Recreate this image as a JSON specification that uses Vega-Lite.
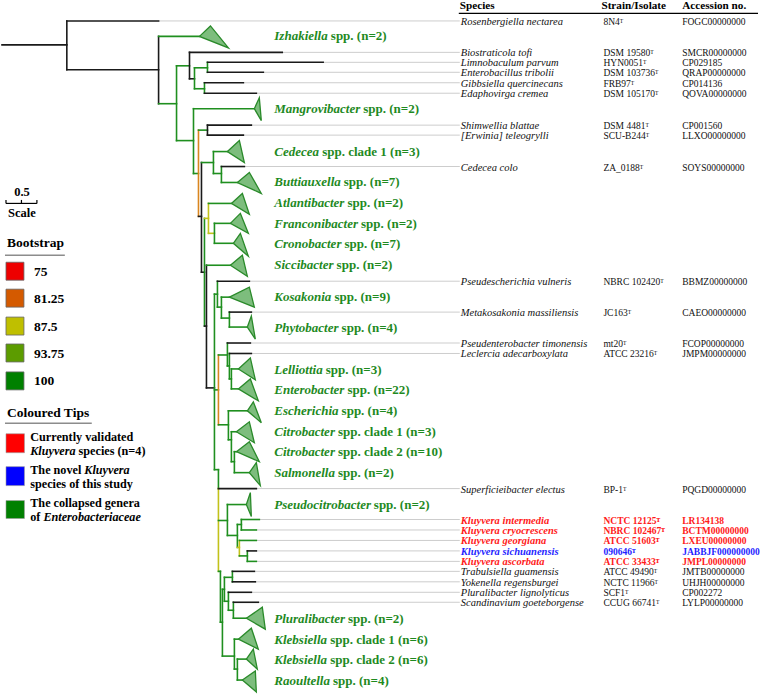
{
"$schema":"https://vega.github.io/schema/vega-lite/v6.json",
"width":760,"height":695,"padding":0,
"autosize":{"type":"fit","contains":"padding"},
"background":"white",
"config":{"view":{"stroke":null},"axis":{"disable":true},"text":{"font":"Liberation Serif"}},
"data":{"values":[{}]},
"datasets":{
"branches":[
{"x":0,"x2":65,"y":44,"y2":44,"b":"none"},
{"x":65,"x2":65,"y":20,"y2":69,"b":"none"},
{"x":65,"x2":157,"y":20,"y2":20,"b":"none"},
{"x":65,"x2":157,"y":69,"y2":69,"b":"none"},
{"x":157,"x2":157,"y":35.5,"y2":103,"b":"none"},
{"x":157,"x2":198,"y":35.5,"y2":35.5,"b":"100"},
{"x":157,"x2":175,"y":103,"y2":103,"b":"100"},
{"x":175,"x2":175,"y":65,"y2":140,"b":"100"},
{"x":175,"x2":188,"y":65,"y2":65,"b":"100"},
{"x":188,"x2":188,"y":51.5,"y2":78,"b":"none"},
{"x":188,"x2":281,"y":51.5,"y2":51.5,"b":"none"},
{"x":188,"x2":193,"y":78,"y2":78,"b":"none"},
{"x":193,"x2":193,"y":67,"y2":88,"b":"100"},
{"x":193,"x2":206,"y":67,"y2":67,"b":"100"},
{"x":206,"x2":206,"y":61.5,"y2":71.5,"b":"100"},
{"x":206,"x2":322,"y":61.5,"y2":61.5,"b":"none"},
{"x":206,"x2":262,"y":71.5,"y2":71.5,"b":"none"},
{"x":193,"x2":203,"y":88,"y2":88,"b":"100"},
{"x":203,"x2":203,"y":82,"y2":92.5,"b":"100"},
{"x":203,"x2":242,"y":82,"y2":82,"b":"none"},
{"x":203,"x2":255,"y":92.5,"y2":92.5,"b":"none"},
{"x":175,"x2":192,"y":140,"y2":140,"b":"100"},
{"x":192,"x2":192,"y":108,"y2":173,"b":"100"},
{"x":192,"x2":253,"y":108,"y2":108,"b":"100"},
{"x":192,"x2":197,"y":173,"y2":173,"b":"100"},
{"x":197,"x2":197,"y":129.5,"y2":216,"b":"81.25"},
{"x":197,"x2":206,"y":129.5,"y2":129.5,"b":"100"},
{"x":206,"x2":206,"y":124.5,"y2":134.5,"b":"none"},
{"x":206,"x2":250,"y":124.5,"y2":124.5,"b":"none"},
{"x":206,"x2":242,"y":134.5,"y2":134.5,"b":"none"},
{"x":197,"x2":200,"y":216,"y2":216,"b":"none"},
{"x":200,"x2":200,"y":162,"y2":272,"b":"none"},
{"x":200,"x2":212,"y":162,"y2":162,"b":"100"},
{"x":212,"x2":212,"y":151,"y2":173,"b":"100"},
{"x":212,"x2":226,"y":151,"y2":151,"b":"100"},
{"x":212,"x2":220,"y":173,"y2":173,"b":"100"},
{"x":220,"x2":220,"y":166,"y2":182,"b":"100"},
{"x":220,"x2":243,"y":166,"y2":166,"b":"none"},
{"x":220,"x2":236,"y":182,"y2":182,"b":"100"},
{"x":200,"x2":203,"y":272,"y2":272,"b":"none"},
{"x":203,"x2":203,"y":218,"y2":326,"b":"100"},
{"x":203,"x2":207,"y":218,"y2":218,"b":"87.5"},
{"x":207,"x2":207,"y":203,"y2":233,"b":"87.5"},
{"x":207,"x2":230,"y":203,"y2":203,"b":"100"},
{"x":207,"x2":213,"y":233,"y2":233,"b":"87.5"},
{"x":213,"x2":213,"y":223,"y2":243,"b":"100"},
{"x":213,"x2":229,"y":223,"y2":223,"b":"100"},
{"x":213,"x2":232,"y":243,"y2":243,"b":"100"},
{"x":203,"x2":205,"y":326,"y2":326,"b":"none"},
{"x":205,"x2":205,"y":265,"y2":388,"b":"none"},
{"x":205,"x2":229,"y":265,"y2":265,"b":"100"},
{"x":205,"x2":213,"y":388,"y2":388,"b":"none"},
{"x":213,"x2":213,"y":294,"y2":470,"b":"100"},
{"x":213,"x2":216,"y":294,"y2":294,"b":"100"},
{"x":216,"x2":216,"y":281,"y2":307,"b":"100"},
{"x":216,"x2":248,"y":281,"y2":281,"b":"none"},
{"x":216,"x2":220,"y":307,"y2":307,"b":"100"},
{"x":220,"x2":220,"y":297,"y2":318,"b":"100"},
{"x":220,"x2":228,"y":297,"y2":297,"b":"100"},
{"x":220,"x2":228,"y":318,"y2":318,"b":"100"},
{"x":228,"x2":228,"y":312,"y2":327,"b":"100"},
{"x":228,"x2":250,"y":312,"y2":312,"b":"none"},
{"x":228,"x2":246,"y":327,"y2":327,"b":"100"},
{"x":213,"x2":217,"y":390,"y2":390,"b":"100"},
{"x":217,"x2":217,"y":355,"y2":425,"b":"81.25"},
{"x":217,"x2":226,"y":355,"y2":355,"b":"100"},
{"x":226,"x2":226,"y":343,"y2":366,"b":"100"},
{"x":226,"x2":249,"y":343,"y2":343,"b":"none"},
{"x":226,"x2":228,"y":366,"y2":366,"b":"100"},
{"x":228,"x2":228,"y":353.5,"y2":379,"b":"100"},
{"x":228,"x2":250,"y":353.5,"y2":353.5,"b":"none"},
{"x":228,"x2":230,"y":379,"y2":379,"b":"100"},
{"x":230,"x2":230,"y":369,"y2":389,"b":"100"},
{"x":230,"x2":237,"y":369,"y2":369,"b":"100"},
{"x":230,"x2":237,"y":389,"y2":389,"b":"100"},
{"x":217,"x2":227,"y":425,"y2":425,"b":"100"},
{"x":227,"x2":227,"y":411,"y2":440,"b":"100"},
{"x":227,"x2":246,"y":411,"y2":411,"b":"100"},
{"x":227,"x2":230,"y":440,"y2":440,"b":"100"},
{"x":230,"x2":230,"y":432,"y2":462,"b":"100"},
{"x":230,"x2":235,"y":432,"y2":432,"b":"100"},
{"x":230,"x2":233,"y":462,"y2":462,"b":"100"},
{"x":233,"x2":233,"y":452,"y2":473,"b":"100"},
{"x":233,"x2":235,"y":452,"y2":452,"b":"100"},
{"x":233,"x2":248,"y":473,"y2":473,"b":"100"},
{"x":213,"x2":217,"y":470,"y2":470,"b":"100"},
{"x":217,"x2":217,"y":470,"y2":489,"b":"100"},
{"x":217,"x2":217,"y":489,"y2":572,"b":"87.5"},
{"x":217,"x2":255,"y":489,"y2":489,"b":"none"},
{"x":217,"x2":226,"y":521,"y2":521,"b":"100"},
{"x":226,"x2":226,"y":505,"y2":536,"b":"100"},
{"x":226,"x2":245,"y":505,"y2":505,"b":"100"},
{"x":226,"x2":236,"y":536,"y2":536,"b":"100"},
{"x":236,"x2":236,"y":525,"y2":548,"b":"100"},
{"x":236,"x2":240,"y":525,"y2":525,"b":"100"},
{"x":240,"x2":240,"y":520,"y2":530.5,"b":"100"},
{"x":240,"x2":258,"y":520,"y2":520,"b":"100"},
{"x":240,"x2":255,"y":530.5,"y2":530.5,"b":"100"},
{"x":236,"x2":238,"y":548,"y2":548,"b":"87.5"},
{"x":238,"x2":238,"y":541,"y2":556.5,"b":"87.5"},
{"x":238,"x2":255,"y":541,"y2":541,"b":"100"},
{"x":238,"x2":246,"y":556.5,"y2":556.5,"b":"100"},
{"x":246,"x2":246,"y":551.5,"y2":562,"b":"100"},
{"x":246,"x2":255,"y":551.5,"y2":551.5,"b":"none"},
{"x":246,"x2":255,"y":562,"y2":562,"b":"100"},
{"x":219,"x2":219,"y":572,"y2":623,"b":"100"},
{"x":217,"x2":219,"y":572,"y2":572,"b":"100"},
{"x":219,"x2":221,"y":623,"y2":623,"b":"100"},
{"x":221,"x2":221,"y":590,"y2":657,"b":"100"},
{"x":221,"x2":223,"y":590,"y2":590,"b":"100"},
{"x":223,"x2":223,"y":578,"y2":602,"b":"100"},
{"x":223,"x2":231,"y":578,"y2":578,"b":"100"},
{"x":231,"x2":231,"y":572,"y2":582.5,"b":"100"},
{"x":231,"x2":253,"y":572,"y2":572,"b":"none"},
{"x":231,"x2":254,"y":582.5,"y2":582.5,"b":"none"},
{"x":223,"x2":227,"y":602,"y2":602,"b":"100"},
{"x":227,"x2":227,"y":593,"y2":611,"b":"100"},
{"x":227,"x2":250,"y":593,"y2":593,"b":"none"},
{"x":227,"x2":232,"y":611,"y2":611,"b":"100"},
{"x":232,"x2":232,"y":603,"y2":619,"b":"100"},
{"x":232,"x2":257,"y":603,"y2":603,"b":"none"},
{"x":232,"x2":245,"y":619,"y2":619,"b":"100"},
{"x":221,"x2":233,"y":657,"y2":657,"b":"100"},
{"x":233,"x2":233,"y":640,"y2":670,"b":"100"},
{"x":233,"x2":237,"y":640,"y2":640,"b":"100"},
{"x":233,"x2":236,"y":670,"y2":670,"b":"100"},
{"x":236,"x2":236,"y":660,"y2":681,"b":"100"},
{"x":236,"x2":245,"y":660,"y2":660,"b":"100"},
{"x":236,"x2":241,"y":681,"y2":681,"b":"100"}
],
"tips":[
{"n":"Rosenbergiella nectarea","s":"8N4ᵀ","a":"FOGC00000000","y":20,"xe":157,"k":"n"},
{"n":"Biostraticola tofi","s":"DSM 19580ᵀ","a":"SMCR00000000","y":51.5,"xe":281,"k":"n"},
{"n":"Limnobaculum parvum","s":"HYN0051ᵀ","a":"CP029185","y":61.5,"xe":322,"k":"n"},
{"n":"Enterobacillus tribolii","s":"DSM 103736ᵀ","a":"QRAP00000000","y":71.5,"xe":262,"k":"n"},
{"n":"Gibbsiella quercinecans","s":"FRB97ᵀ","a":"CP014136","y":82,"xe":242,"k":"n"},
{"n":"Edaphovirga cremea","s":"DSM 105170ᵀ","a":"QOVA00000000","y":92.5,"xe":255,"k":"n"},
{"n":"Shimwellia blattae","s":"DSM 4481ᵀ","a":"CP001560","y":124.5,"xe":250,"k":"n"},
{"n":"[Erwinia] teleogrylli","s":"SCU-B244ᵀ","a":"LLXO00000000","y":134.5,"xe":242,"k":"n"},
{"n":"Cedecea colo","s":"ZA_0188ᵀ","a":"SOYS00000000","y":166,"xe":243,"k":"n"},
{"n":"Pseudescherichia vulneris","s":"NBRC 102420ᵀ","a":"BBMZ00000000","y":281,"xe":248,"k":"n"},
{"n":"Metakosakonia massiliensis","s":"JC163ᵀ","a":"CAEO00000000","y":312,"xe":250,"k":"n"},
{"n":"Pseudenterobacter timonensis","s":"mt20ᵀ","a":"FCOP00000000","y":343,"xe":249,"k":"n"},
{"n":"Leclercia adecarboxylata","s":"ATCC 23216ᵀ","a":"JMPM00000000","y":353.5,"xe":250,"k":"n"},
{"n":"Superficieibacter electus","s":"BP-1ᵀ","a":"PQGD00000000","y":489,"xe":255,"k":"n"},
{"n":"Kluyvera intermedia","s":"NCTC 12125ᵀ","a":"LR134138","y":520,"xe":258,"k":"r"},
{"n":"Kluyvera cryocrescens","s":"NBRC 102467ᵀ","a":"BCTM00000000","y":530.5,"xe":255,"k":"r"},
{"n":"Kluyvera georgiana","s":"ATCC 51603ᵀ","a":"LXEU00000000","y":541,"xe":255,"k":"r"},
{"n":"Kluyvera sichuanensis","s":"090646ᵀ","a":"JABBJF000000000","y":551.5,"xe":255,"k":"b"},
{"n":"Kluyvera ascorbata","s":"ATCC 33433ᵀ","a":"JMPL00000000","y":562,"xe":255,"k":"r"},
{"n":"Trabulsiella guamensis","s":"ATCC 49490ᵀ","a":"JMTB00000000","y":572,"xe":253,"k":"n"},
{"n":"Yokenella regensburgei","s":"NCTC 11966ᵀ","a":"UHJH00000000","y":582.5,"xe":254,"k":"n"},
{"n":"Pluralibacter lignolyticus","s":"SCF1ᵀ","a":"CP002272","y":593,"xe":250,"k":"n"},
{"n":"Scandinavium goeteborgense","s":"CCUG 66741ᵀ","a":"LYLP00000000","y":603,"xe":257,"k":"n"}
],
"tri":[
{"id":"Izh","k":0,"x":198,"y":35.5},{"id":"Izh","k":1,"x":209,"y":25},{"id":"Izh","k":2,"x":227,"y":47},
{"id":"Man","k":0,"x":253,"y":108},{"id":"Man","k":1,"x":258,"y":97},{"id":"Man","k":2,"x":260,"y":120},
{"id":"Ced","k":0,"x":226,"y":151},{"id":"Ced","k":1,"x":238,"y":140},{"id":"Ced","k":2,"x":243,"y":162},
{"id":"But","k":0,"x":236,"y":182},{"id":"But","k":1,"x":248,"y":172},{"id":"But","k":2,"x":260,"y":193},
{"id":"Atl","k":0,"x":230,"y":203},{"id":"Atl","k":1,"x":241,"y":193},{"id":"Atl","k":2,"x":248,"y":214},
{"id":"Fra","k":0,"x":229,"y":223},{"id":"Fra","k":1,"x":239,"y":213},{"id":"Fra","k":2,"x":247,"y":233},
{"id":"Cro","k":0,"x":232,"y":243},{"id":"Cro","k":1,"x":239,"y":233},{"id":"Cro","k":2,"x":247,"y":256},
{"id":"Sic","k":0,"x":229,"y":265},{"id":"Sic","k":1,"x":241,"y":255},{"id":"Sic","k":2,"x":246,"y":276},
{"id":"Kos","k":0,"x":228,"y":297},{"id":"Kos","k":1,"x":248,"y":287},{"id":"Kos","k":2,"x":253,"y":307},
{"id":"Phy","k":0,"x":246,"y":327},{"id":"Phy","k":1,"x":250,"y":316},{"id":"Phy","k":2,"x":254,"y":339},
{"id":"Lel","k":0,"x":237,"y":369},{"id":"Lel","k":1,"x":249,"y":358},{"id":"Lel","k":2,"x":254,"y":380},
{"id":"Ent","k":0,"x":237,"y":389},{"id":"Ent","k":1,"x":249,"y":379},{"id":"Ent","k":2,"x":257,"y":401},
{"id":"Esc","k":0,"x":246,"y":411},{"id":"Esc","k":1,"x":252,"y":402},{"id":"Esc","k":2,"x":260,"y":423},
{"id":"Ci1","k":0,"x":235,"y":432},{"id":"Ci1","k":1,"x":248,"y":422},{"id":"Ci1","k":2,"x":253,"y":443},
{"id":"Ci2","k":0,"x":235,"y":452},{"id":"Ci2","k":1,"x":248,"y":442},{"id":"Ci2","k":2,"x":258,"y":462},
{"id":"Sal","k":0,"x":248,"y":473},{"id":"Sal","k":1,"x":255,"y":463},{"id":"Sal","k":2,"x":259,"y":486},
{"id":"Pse","k":0,"x":245,"y":505},{"id":"Pse","k":1,"x":249,"y":493},{"id":"Pse","k":2,"x":250,"y":517},
{"id":"Plu","k":0,"x":245,"y":619},{"id":"Plu","k":1,"x":261,"y":608},{"id":"Plu","k":2,"x":264,"y":630},
{"id":"Kl1","k":0,"x":237,"y":640},{"id":"Kl1","k":1,"x":250,"y":629},{"id":"Kl1","k":2,"x":257,"y":650},
{"id":"Kl2","k":0,"x":245,"y":660},{"id":"Kl2","k":1,"x":252,"y":650},{"id":"Kl2","k":2,"x":256,"y":670},
{"id":"Rao","k":0,"x":241,"y":681},{"id":"Rao","k":1,"x":254,"y":672},{"id":"Rao","k":2,"x":255,"y":693}
],
"groups":[
{"g":"Izhakiella","s":"spp. (n=2)","y":35,"sx":329.7},
{"g":"Mangrovibacter","s":"spp. (n=2)","y":108,"sx":362.2},
{"g":"Cedecea","s":"spp. clade 1 (n=3)","y":151,"sx":321},
{"g":"Buttiauxella","s":"spp. (n=7)","y":182,"sx":342.7},
{"g":"Atlantibacter","s":"spp. (n=2)","y":203,"sx":346.3},
{"g":"Franconibacter","s":"spp. (n=2)","y":223.5,"sx":360},
{"g":"Cronobacter","s":"spp. (n=7)","y":244,"sx":343.4},
{"g":"Siccibacter","s":"spp. (n=2)","y":265,"sx":335.5},
{"g":"Kosakonia","s":"spp. (n=9)","y":297,"sx":333.3},
{"g":"Phytobacter","s":"spp. (n=4)","y":327.5,"sx":340.5},
{"g":"Lelliottia","s":"spp. (n=3)","y":370,"sx":324.6},
{"g":"Enterobacter","s":"spp. (n=22)","y":390,"sx":346.3},
{"g":"Escherichia","s":"spp. (n=4)","y":411,"sx":340.5},
{"g":"Citrobacter","s":"spp. clade 1 (n=3)","y":432,"sx":336.9},
{"g":"Citrobacter","s":"spp. clade 2 (n=10)","y":452.5,"sx":336.9},
{"g":"Salmonella","s":"spp. (n=2)","y":473,"sx":336.9},
{"g":"Pseudocitrobacter","s":"spp. (n=2)","y":505,"sx":372.8},
{"g":"Pluralibacter","s":"spp. (n=2)","y":620,"sx":346.8},
{"g":"Klebsiella","s":"spp. clade 1 (n=6)","y":640.5,"sx":329},
{"g":"Klebsiella","s":"spp. clade 2 (n=6)","y":660.5,"sx":329},
{"g":"Raoultella","s":"spp. (n=4)","y":681.5,"sx":331.9}
],
"boot":[
{"b":"75","y":262,"y2":280},
{"b":"81.25","y":289,"y2":307},
{"b":"87.5","y":317,"y2":335},
{"b":"93.75","y":344,"y2":362},
{"b":"100","y":372,"y2":390}
],
"tipleg":[
{"b":"validated","y":434,"y2":453},
{"b":"novel","y":467,"y2":486},
{"b":"collapsed","y":501,"y2":519}
]
},
"layer":[
{"data":{"name":"tips"},"mark":{"type":"rule","color":"#cdcdcd","strokeWidth":1},
 "encoding":{"x":{"field":"xe","type":"quantitative","scale":{"domain":[0,760],"nice":false,"zero":false},"axis":null},"x2":{"datum":459},
 "y":{"field":"y","type":"quantitative","scale":{"domain":[0,695],"nice":false,"zero":false,"reverse":true},"axis":null}}},
{"data":{"name":"branches"},"mark":{"type":"rule","strokeWidth":1.6,"strokeCap":"square"},
 "encoding":{"x":{"field":"x","type":"quantitative","axis":null},"x2":{"field":"x2"},"y":{"field":"y","type":"quantitative","axis":null},"y2":{"field":"y2"},
 "stroke":{"field":"b","type":"nominal","scale":{"domain":["none","100","93.75","87.5","81.25","75"],"range":["#1a1a1a","#1f8f1f","#63a019","#c2c21a","#d9861f","#e00000"]},"legend":null}}},
{"data":{"name":"tri"},"mark":{"type":"line","interpolate":"linear-closed","fill":"#7dbd7d","stroke":"#2a8a2a","strokeWidth":1.3,"strokeJoin":"miter"},
 "encoding":{"x":{"field":"x","type":"quantitative","axis":null},"y":{"field":"y","type":"quantitative","axis":null},"detail":{"field":"id","type":"nominal"},"order":{"field":"k","type":"quantitative"}}},
{"data":{"name":"groups"},"mark":{"type":"text","align":"left","baseline":"middle","fontSize":13,"fontWeight":"bold","fontStyle":"italic","color":"#1f8a1f"},
 "encoding":{"x":{"datum":273,"type":"quantitative","axis":null},"y":{"field":"y","type":"quantitative","axis":null},"text":{"field":"g"}}},
{"data":{"name":"groups"},"mark":{"type":"text","align":"left","baseline":"middle","fontSize":13,"fontWeight":"bold","color":"#1f8a1f"},
 "encoding":{"x":{"field":"sx","type":"quantitative","axis":null},"y":{"field":"y","type":"quantitative","axis":null},"text":{"field":"s"}}},
{"data":{"name":"tips"},"transform":[{"filter":"datum.k == 'n'"}],"mark":{"type":"text","align":"left","baseline":"middle","fontSize":10.5,"fontStyle":"italic","dy":1,"color":"#111111"},
 "encoding":{"x":{"datum":460,"type":"quantitative","axis":null},"y":{"field":"y","type":"quantitative","axis":null},"text":{"field":"n"}}},
{"data":{"name":"tips"},"transform":[{"filter":"datum.k == 'n'"}],"mark":{"type":"text","align":"left","baseline":"middle","fontSize":9.5,"dy":1,"color":"#111111"},
 "encoding":{"x":{"datum":603,"type":"quantitative","axis":null},"y":{"field":"y","type":"quantitative","axis":null},"text":{"field":"s"}}},
{"data":{"name":"tips"},"transform":[{"filter":"datum.k == 'n'"}],"mark":{"type":"text","align":"left","baseline":"middle","fontSize":9.5,"dy":1,"color":"#111111"},
 "encoding":{"x":{"datum":682,"type":"quantitative","axis":null},"y":{"field":"y","type":"quantitative","axis":null},"text":{"field":"a"}}},
{"data":{"name":"tips"},"transform":[{"filter":"datum.k != 'n'"}],"mark":{"type":"text","align":"left","baseline":"middle","fontSize":10.5,"fontStyle":"italic","fontWeight":"bold","dy":1},
 "encoding":{"x":{"datum":460,"type":"quantitative","axis":null},"y":{"field":"y","type":"quantitative","axis":null},"text":{"field":"n"},
 "color":{"field":"k","type":"nominal","scale":{"domain":["n","r","b"],"range":["#111111","#ff1a1a","#1f1fff"]},"legend":null}}},
{"data":{"name":"tips"},"transform":[{"filter":"datum.k != 'n'"}],"mark":{"type":"text","align":"left","baseline":"middle","fontSize":9.5,"fontWeight":"bold","dy":1},
 "encoding":{"x":{"datum":603,"type":"quantitative","axis":null},"y":{"field":"y","type":"quantitative","axis":null},"text":{"field":"s"},
 "color":{"field":"k","type":"nominal","legend":null}}},
{"data":{"name":"tips"},"transform":[{"filter":"datum.k != 'n'"}],"mark":{"type":"text","align":"left","baseline":"middle","fontSize":9.5,"fontWeight":"bold","dy":1},
 "encoding":{"x":{"datum":682,"type":"quantitative","axis":null},"y":{"field":"y","type":"quantitative","axis":null},"text":{"field":"a"},
 "color":{"field":"k","type":"nominal","legend":null}}},
{"mark":{"type":"text","align":"left","baseline":"middle","fontSize":11.2,"fontWeight":"bold","text":"Species"},
 "encoding":{"x":{"datum":459,"type":"quantitative","axis":null},"y":{"datum":5.5,"type":"quantitative","axis":null}}},
{"mark":{"type":"text","align":"left","baseline":"middle","fontSize":11.2,"fontWeight":"bold","text":"Strain/Isolate"},
 "encoding":{"x":{"datum":601,"type":"quantitative","axis":null},"y":{"datum":5.5,"type":"quantitative","axis":null}}},
{"mark":{"type":"text","align":"left","baseline":"middle","fontSize":11.2,"fontWeight":"bold","text":"Accession no."},
 "encoding":{"x":{"datum":682,"type":"quantitative","axis":null},"y":{"datum":5.5,"type":"quantitative","axis":null}}},
{"mark":{"type":"rule","color":"#000000","strokeWidth":1.3},
 "encoding":{"x":{"datum":458,"type":"quantitative","axis":null},"x2":{"datum":758},"y":{"datum":12.5,"type":"quantitative","axis":null}}},
{"mark":{"type":"rule","color":"#000000","strokeWidth":1.2},
 "encoding":{"x":{"datum":4,"type":"quantitative","axis":null},"x2":{"datum":35},"y":{"datum":203,"type":"quantitative","axis":null}}},
{"data":{"values":[{"t":4},{"t":19.5},{"t":35}]},"mark":{"type":"rule","color":"#000000","strokeWidth":1.2},
 "encoding":{"x":{"field":"t","type":"quantitative","axis":null},"y":{"datum":199.5,"type":"quantitative","axis":null},"y2":{"datum":203}}},
{"mark":{"type":"text","align":"center","baseline":"middle","fontSize":12.5,"fontWeight":"bold","text":"0.5"},
 "encoding":{"x":{"datum":20,"type":"quantitative","axis":null},"y":{"datum":192,"type":"quantitative","axis":null}}},
{"mark":{"type":"text","align":"center","baseline":"middle","fontSize":12.5,"fontWeight":"bold","text":"Scale"},
 "encoding":{"x":{"datum":20,"type":"quantitative","axis":null},"y":{"datum":213,"type":"quantitative","axis":null}}},
{"mark":{"type":"text","align":"left","baseline":"middle","fontSize":13.5,"fontWeight":"bold","text":"Bootstrap"},
 "encoding":{"x":{"datum":5,"type":"quantitative","axis":null},"y":{"datum":243,"type":"quantitative","axis":null}}},
{"mark":{"type":"rule","color":"#8c8c8c","strokeWidth":1.4},
 "encoding":{"x":{"datum":3,"type":"quantitative","axis":null},"x2":{"datum":63},"y":{"datum":255,"type":"quantitative","axis":null}}},
{"data":{"name":"boot"},"mark":{"type":"rect","stroke":"#666666","strokeWidth":0.8},
 "encoding":{"x":{"datum":4,"type":"quantitative","axis":null},"x2":{"datum":22},"y":{"field":"y","type":"quantitative","axis":null},"y2":{"field":"y2"},
 "fill":{"field":"b","type":"nominal","scale":{"domain":["75","81.25","87.5","93.75","100","validated","novel","collapsed"],"range":["#ee0000","#d45a00","#bfbf00","#5c9c00","#008000","#ff0000","#0000ff","#008000"]},"legend":null}}},
{"data":{"name":"boot"},"mark":{"type":"text","align":"left","baseline":"middle","fontSize":13.5,"fontWeight":"bold","dy":9.5},
 "encoding":{"x":{"datum":32,"type":"quantitative","axis":null},"y":{"field":"y","type":"quantitative","axis":null},"text":{"field":"b"}}},
{"mark":{"type":"text","align":"left","baseline":"middle","fontSize":13.5,"fontWeight":"bold","text":"Coloured Tips"},
 "encoding":{"x":{"datum":5,"type":"quantitative","axis":null},"y":{"datum":413,"type":"quantitative","axis":null}}},
{"mark":{"type":"rule","color":"#8c8c8c","strokeWidth":1.4},
 "encoding":{"x":{"datum":3,"type":"quantitative","axis":null},"x2":{"datum":90},"y":{"datum":423.5,"type":"quantitative","axis":null}}},
{"data":{"name":"tipleg"},"mark":{"type":"rect","stroke":"#9a9a9a","strokeWidth":0.6},
 "encoding":{"x":{"datum":4,"type":"quantitative","axis":null},"x2":{"datum":22.5},"y":{"field":"y","type":"quantitative","axis":null},"y2":{"field":"y2"},
 "fill":{"field":"b","type":"nominal","legend":null}}},
{"mark":{"type":"text","align":"left","baseline":"middle","fontSize":12.2,"fontWeight":"bold","text":"Currently validated"},
 "encoding":{"x":{"datum":28.3,"type":"quantitative","axis":null},"y":{"datum":437,"type":"quantitative","axis":null}}},
{"mark":{"type":"text","align":"left","baseline":"middle","fontSize":12.2,"fontWeight":"bold","fontStyle":"italic","text":"Kluyvera"},
 "encoding":{"x":{"datum":28.3,"type":"quantitative","axis":null},"y":{"datum":451,"type":"quantitative","axis":null}}},
{"mark":{"type":"text","align":"left","baseline":"middle","fontSize":12.2,"fontWeight":"bold","text":"species (n=4)"},
 "encoding":{"x":{"datum":76.8,"type":"quantitative","axis":null},"y":{"datum":451,"type":"quantitative","axis":null}}},
{"mark":{"type":"text","align":"left","baseline":"middle","fontSize":12.2,"fontWeight":"bold","text":"The novel"},
 "encoding":{"x":{"datum":28.3,"type":"quantitative","axis":null},"y":{"datum":470.5,"type":"quantitative","axis":null}}},
{"mark":{"type":"text","align":"left","baseline":"middle","fontSize":12.2,"fontWeight":"bold","fontStyle":"italic","text":"Kluyvera"},
 "encoding":{"x":{"datum":82.5,"type":"quantitative","axis":null},"y":{"datum":470.5,"type":"quantitative","axis":null}}},
{"mark":{"type":"text","align":"left","baseline":"middle","fontSize":12.2,"fontWeight":"bold","text":"species of this study"},
 "encoding":{"x":{"datum":28.3,"type":"quantitative","axis":null},"y":{"datum":484.5,"type":"quantitative","axis":null}}},
{"mark":{"type":"text","align":"left","baseline":"middle","fontSize":12.2,"fontWeight":"bold","text":"The collapsed genera"},
 "encoding":{"x":{"datum":28.3,"type":"quantitative","axis":null},"y":{"datum":503.5,"type":"quantitative","axis":null}}},
{"mark":{"type":"text","align":"left","baseline":"middle","fontSize":12.2,"fontWeight":"bold","text":"of"},
 "encoding":{"x":{"datum":28.3,"type":"quantitative","axis":null},"y":{"datum":517.5,"type":"quantitative","axis":null}}},
{"mark":{"type":"text","align":"left","baseline":"middle","fontSize":12.2,"fontWeight":"bold","fontStyle":"italic","text":"Enterobacteriaceae"},
 "encoding":{"x":{"datum":41.5,"type":"quantitative","axis":null},"y":{"datum":517.5,"type":"quantitative","axis":null}}}
]
}
